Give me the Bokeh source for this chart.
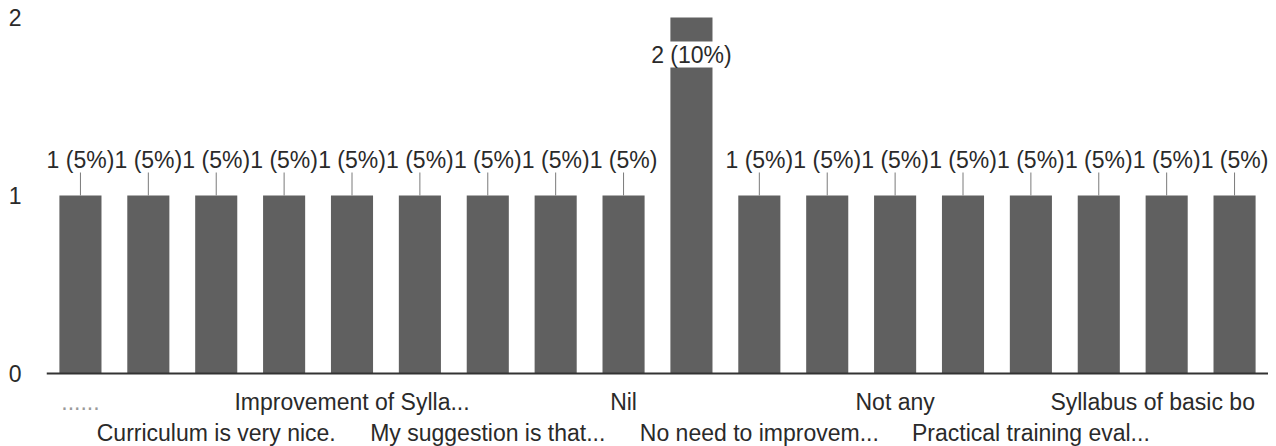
from bokeh.plotting import figure
from bokeh.models import ColumnDataSource, FactorRange, Range1d, FixedTicker, Span, LabelSet
from bokeh.core.properties import value
from bokeh.embed import file_html
from bokeh.resources import INLINE

# ---- data ----
categories = ["R1", "R2", "R3", "R4", "R5", "R6", "R7", "R8", "R9",
              "R10", "R11", "R12", "R13", "R14", "R15", "R16", "R17", "R18"]
counts = [1, 1, 1, 1, 1, 1, 1, 1, 1, 2, 1, 1, 1, 1, 1, 1, 1, 1]
percents = [5, 5, 5, 5, 5, 5, 5, 5, 5, 10, 5, 5, 5, 5, 5, 5, 5, 5]
x_labels = ["......", "", "Curriculum is very nice.", "", "Improvement of Sylla...", "",
            "My suggestion is that...", "", "Nil", "", "No need to improvem...", "",
            "Not any", "", "Practical training eval...", "", "Syllabus of basic bo", ""]
y_ticks = [0, 1, 2]

# ---- layout ----
W, H = 1268, 446
LEFT = 46
ZERO_PX, TWO_PX = 373, 17           # screen rows of y=0 and y=2
UNIT = (ZERO_PX - TWO_PX) / 2.0     # pixels per count
Y_END = 2 + TWO_PX / UNIT
Y_START = -(H - ZERO_PX) / UNIT
PX = 1.0 / UNIT                     # data units per pixel
FONT = "Liberation Sans"
FS = "23px"
TXT = "#2a2a2a"

p = figure(width=W, height=H, x_range=FactorRange(factors=categories, range_padding=0),
           y_range=Range1d(Y_START, Y_END), output_backend="svg", toolbar_location=None,
           min_border_left=LEFT, min_border_right=0, min_border_top=0, min_border_bottom=0)
p.outline_line_color = None
p.xgrid.grid_line_color = None
p.ygrid.grid_line_color = None
p.xaxis.visible = False
p.yaxis.ticker = FixedTicker(ticks=y_ticks)
p.yaxis.axis_line_color = None
p.yaxis.major_tick_line_color = None
p.yaxis.major_tick_out = 0
p.yaxis.minor_tick_line_color = None
p.yaxis.major_label_standoff = 25
p.yaxis.major_label_text_font = FONT
p.yaxis.major_label_text_font_size = FS
p.yaxis.major_label_text_color = TXT

# bars
src = ColumnDataSource(dict(x=categories, top=counts))
p.vbar(x="x", top="top", width=0.62, source=src, fill_color="#606060", line_color=None)

# baseline
p.add_layout(Span(location=0, dimension="width", line_color="#333333", line_width=2))

# value labels
vmax = max(counts)
lab_text = [f"{c} ({pc}%)" for c, pc in zip(counts, percents)]
out_idx = [i for i, c in enumerate(counts) if c < vmax]
in_idx = [i for i, c in enumerate(counts) if c == vmax]

out_src = ColumnDataSource(dict(
    x=[categories[i] for i in out_idx],
    y0=[counts[i] for i in out_idx],
    y1=[counts[i] + 23 * PX for i in out_idx],
    ty=[counts[i] + 36 * PX for i in out_idx],
    t=[lab_text[i] for i in out_idx]))
p.segment(x0="x", y0="y0", x1="x", y1="y1", source=out_src, line_color="#7a7a7a", line_width=1)
p.text(x="x", y="ty", text="t", source=out_src, text_align="center", text_baseline="middle",
       text_font=value(FONT), text_font_size=FS, text_color=TXT)

in_src = ColumnDataSource(dict(
    x=[categories[i] for i in in_idx],
    y=[counts[i] - 37 * PX for i in in_idx],
    t=[lab_text[i] for i in in_idx]))
p.add_layout(LabelSet(x="x", y="y", text="t", source=in_src, text_align="center",
                      text_baseline="middle", text_font=value(FONT), text_font_size=value(FS),
                      text_color=TXT, background_fill_color="white"))

# category labels (every other bar, staggered in two rows)
shown = [i for i, t in enumerate(x_labels) if t]
rows_y = [-28 * PX, -59 * PX]
xl_src = ColumnDataSource(dict(
    x=[categories[i] for i in shown],
    y=[rows_y[k % 2] for k in range(len(shown))],
    t=[x_labels[i] for i in shown],
    c=["#9a9a9a" if set(x_labels[i]) == {"."} else TXT for i in shown],
    off=[-14 if i == len(categories) - 2 else 0 for i in shown]))
p.text(x="x", y="y", text="t", x_offset="off", source=xl_src, text_align="center",
       text_baseline="middle", text_font=value(FONT), text_font_size=FS, text_color="c")

open("out.html", "w").write(file_html(p, INLINE))
